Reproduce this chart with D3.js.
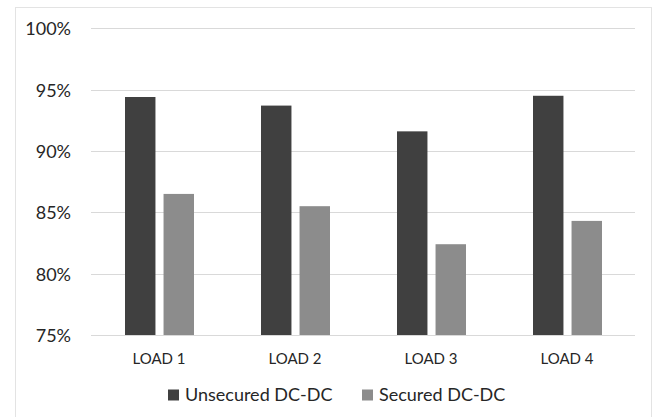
<!DOCTYPE html>
<html>
<head>
<meta charset="utf-8">
<script src="https://cdn.jsdelivr.net/npm/d3@7"></script>
<style>
  html, body { margin: 0; padding: 0; background: #ffffff; }
  svg { display: block; }
  text { font-family: Lato, "Open Sans", "Liberation Sans", sans-serif; fill: #262626; }
</style>
</head>
<body>
<svg id="chart" width="662" height="417"></svg>
<script>
// Efficiency per load, unsecured vs secured converter
const categories = ["LOAD 1", "LOAD 2", "LOAD 3", "LOAD 4"];
const seriesNames = ["Unsecured DC-DC", "Secured DC-DC"];
const unsecured = [94.4, 93.7, 91.6, 94.5];
const secured = [86.5, 85.5, 82.4, 84.3];
const yTicks = [75, 80, 85, 90, 95, 100];
const colors = ["#404040", "#8c8c8c"];

const svg = d3.select("#chart");

// frame around the whole chart
svg.append("rect")
  .attr("x", 15.5).attr("y", 7.5)
  .attr("width", 636).attr("height", 430)
  .attr("fill", "#ffffff")
  .attr("stroke", "#e3e3e3")
  .attr("stroke-width", 1);

const plot = { left: 91, right: 635, top: 28.3, bottom: 335 };

const x0 = d3.scaleBand()
  .domain(categories)
  .range([plot.left, plot.right])
  .padding(0);

const x1 = d3.scaleBand()
  .domain(seriesNames)
  .range([34, 103])
  .paddingInner(0.21)
  .paddingOuter(0);

const y = d3.scaleLinear()
  .domain([75, 100])
  .range([plot.bottom, plot.top]);

// horizontal gridlines
svg.append("g")
  .selectAll("line")
  .data(yTicks)
  .join("line")
  .attr("x1", plot.left).attr("x2", plot.right)
  .attr("y1", d => Math.round(y(d)) + 0.5)
  .attr("y2", d => Math.round(y(d)) + 0.5)
  .attr("stroke", "#d9d9d9")
  .attr("stroke-width", 1.2);

// y axis labels
const yAxis = d3.axisLeft(y)
  .tickValues(yTicks)
  .tickFormat(d => d + "%")
  .tickSize(0)
  .tickPadding(20);

const gy = svg.append("g")
  .attr("transform", `translate(${plot.left},0)`)
  .call(yAxis);
gy.select(".domain").remove();
gy.selectAll("text")
  .attr("font-size", 18)
  .attr("dy", "0.36em")
  .style("font-family", "Lato, 'Open Sans', sans-serif")
  .attr("fill", "#262626");

// bars
const rows = categories.map((c, i) => ({ cat: c, values: [unsecured[i], secured[i]] }));

const groups = svg.append("g")
  .selectAll("g")
  .data(rows)
  .join("g")
  .attr("transform", d => `translate(${x0(d.cat)},0)`);

groups.selectAll("rect")
  .data(d => d.values.map((v, j) => ({ name: seriesNames[j], value: v, j })))
  .join("rect")
  .attr("x", d => x1(d.name))
  .attr("width", x1.bandwidth())
  .attr("y", d => y(d.value))
  .attr("height", d => y(75) - y(d.value))
  .attr("fill", d => colors[d.j]);

// x axis category labels
const xAxis = d3.axisBottom(x0)
  .tickSize(0)
  .tickPadding(18);

const gx = svg.append("g")
  .attr("transform", `translate(0,${plot.bottom})`)
  .call(xAxis);
gx.select(".domain").remove();
gx.selectAll("text")
  .attr("font-size", 15)
  .style("font-family", "Lato, 'Open Sans', sans-serif")
  .attr("fill", "#262626");

// legend
const legendItems = [
  { name: seriesNames[0], color: colors[0], x: 168 },
  { name: seriesNames[1], color: colors[1], x: 362 }
];
const legend = svg.append("g");
legendItems.forEach(item => {
  legend.append("rect")
    .attr("x", item.x).attr("y", 389.5)
    .attr("width", 11).attr("height", 11)
    .attr("fill", item.color);
  legend.append("text")
    .attr("x", item.x + 17).attr("y", 400.7)
    .attr("font-size", 18)
    .text(item.name);
});
</script>
</body>
</html>
